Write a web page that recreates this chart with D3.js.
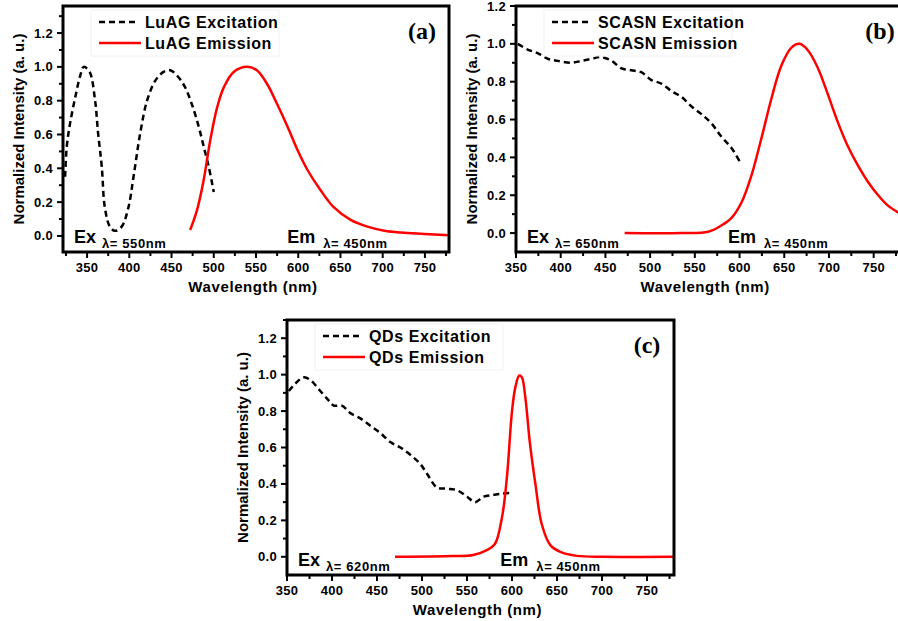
<!DOCTYPE html>
<html>
<head>
<meta charset="utf-8">
<script src="https://cdn.jsdelivr.net/npm/d3@7"></script>
<style>
  body { margin: 0; background: #fff; }
  svg text { font-family: "Liberation Sans", Arial, sans-serif; font-weight: bold; }
</style>
</head>
<body>
<div id="chart"></div>
<script>
// ---- data (wavelength nm, normalized intensity) ----
var luagEx = [[324,0.35],[326,0.53],[330,0.67],[336,0.82],[342,0.95],[346,1.0],[353,0.97],[359.5,0.80],
  [363,0.61],[367.4,0.41],[371,0.17],[377,0.055],[383,0.03],[391,0.055],[399,0.17],[405,0.35],[413,0.61],
  [421,0.80],[431,0.92],[440.5,0.97],[448.5,0.98],[458,0.94],[466,0.88],[474,0.78],[482,0.65],[488,0.53],
  [494,0.41],[500,0.26]];
var luagEm = [[472,0.035],[480,0.15],[488,0.33],[496,0.57],[504,0.76],[512,0.88],[523.6,0.97],[539.5,1.0],
  [551,0.98],[563,0.90],[575,0.78],[587,0.65],[599,0.51],[611,0.39],[626.5,0.27],[642,0.17],[662,0.095],
  [682,0.055],[702,0.031],[721.5,0.02],[749,0.012],[779,0.004]];
var scasnEx = [[352,1.0],[363,0.97],[374.6,0.95],[386,0.92],[397,0.91],[412,0.90],[423,0.91],[434,0.92],
  [445,0.93],[457,0.91],[468,0.87],[479,0.86],[490,0.85],[501,0.81],[512.5,0.79],[524,0.75],[535,0.72],
  [546,0.67],[557,0.63],[568.5,0.58],[579.6,0.51],[591,0.45],[600,0.38]];
var scasnEm = [[471.5,0.0],[535,0.0],[565,0.007],[579.6,0.04],[591,0.08],[602,0.16],[613,0.30],[624.4,0.50],
  [635.6,0.71],[646.8,0.885],[658,0.98],[667,1.0],[676.6,0.965],[687.8,0.87],[699,0.73],[710,0.585],
  [721,0.46],[732.5,0.356],[743.7,0.27],[755,0.20],[766,0.145],[777,0.11],[782,0.095]];
var qdEx = [[352,0.91],[359,0.95],[368.5,0.985],[376,0.97],[387,0.91],[396,0.86],[402,0.83],[411,0.83],
  [420,0.79],[431.5,0.76],[442.5,0.72],[453.7,0.68],[464.8,0.63],[476,0.60],[487,0.56],[498,0.51],
  [505.6,0.456],[516.7,0.38],[527.8,0.374],[539,0.365],[550,0.33],[559,0.30],[568.5,0.33],[579.6,0.34],
  [589,0.347],[598,0.35]];
var qdEm = [[470,0.0],[535,0.004],[557,0.01],[572,0.037],[581,0.07],[589,0.22],[594.4,0.44],[600,0.80],
  [603.7,0.93],[608,0.995],[611,0.985],[614.8,0.875],[620,0.62],[626,0.40],[633,0.18],[642.6,0.064],
  [653.7,0.027],[672,0.005],[702,0.0],[780,0.0]];

var yTickLabels = [0.0, 0.2, 0.4, 0.6, 0.8, 1.0, 1.2];
var xTickLabels = [350, 400, 450, 500, 550, 600, 650, 700, 750];

var panels = [
  {id: "a", name: "LuAG", ex: luagEx, em: luagEm, exWl: "550nm", emWl: "450nm",
   left: 63, top: 6, right: 449, bottom: 252, xd: [321.5, 778.5], yd: [-0.095, 1.36], tagX: 422},
  {id: "b", name: "SCASN", ex: scasnEx, em: scasnEm, exWl: "650nm", emWl: "450nm",
   left: 516, top: 6, right: 900.5, bottom: 252, xd: [350, 780], yd: [-0.1, 1.2], tagX: 880},
  {id: "c", name: "QDs", ex: qdEx, em: qdEm, exWl: "620nm", emWl: "450nm",
   left: 287, top: 320, right: 674, bottom: 575, xd: [350, 780], yd: [-0.1, 1.3], tagX: 647}
];

var svg = d3.select("#chart").append("svg")
  .attr("width", 898).attr("height", 621);

panels.forEach(function(p){
  var x = d3.scaleLinear().domain(p.xd).range([p.left, p.right]);
  var y = d3.scaleLinear().domain(p.yd).range([p.bottom, p.top]);
  var g = svg.append("g");

  g.append("clipPath").attr("id", "clip-" + p.id)
    .append("rect").attr("x", p.left).attr("y", p.top)
    .attr("width", p.right - p.left).attr("height", p.bottom - p.top);

  // ticks: minor every 25 nm / 0.1, major with labels
  var xMinor = d3.range(325, 780, 25).filter(function(v){ return v >= p.xd[0] && v <= p.xd[1]; });
  var yMinor = d3.range(0, p.yd[1] + 0.001, 0.1);
  g.selectAll(".xt").data(xMinor).enter().append("line")
    .attr("x1", function(d){ return x(d); }).attr("x2", function(d){ return x(d); })
    .attr("y1", p.bottom).attr("y2", function(d){ return p.bottom + (d % 50 == 0 ? 6 : 4); })
    .attr("stroke", "#000").attr("stroke-width", 2);
  g.selectAll(".yt").data(yMinor).enter().append("line")
    .attr("y1", function(d){ return y(d); }).attr("y2", function(d){ return y(d); })
    .attr("x1", p.left).attr("x2", function(d, i){ return p.left - (i % 2 == 0 ? 6 : 4); })
    .attr("stroke", "#000").attr("stroke-width", 2);

  g.selectAll(".xl").data(xTickLabels.filter(function(v){ return v >= p.xd[0]; })).enter().append("text")
    .attr("x", function(d){ return x(d); }).attr("y", p.bottom + 20)
    .attr("text-anchor", "middle").attr("font-size", 13).attr("letter-spacing", 0.3)
    .text(function(d){ return d; });
  g.selectAll(".yl").data(yTickLabels).enter().append("text")
    .attr("x", p.left - 10).attr("y", function(d){ return y(d); })
    .attr("dy", "0.35em").attr("text-anchor", "end").attr("font-size", 13).attr("letter-spacing", 0.3)
    .text(function(d){ return d.toFixed(1); });

  // axis titles
  g.append("text").attr("x", (p.left + p.right) / 2 - 3).attr("y", p.bottom + 40)
    .attr("text-anchor", "middle").attr("font-size", 15).attr("letter-spacing", 0.6)
    .text("Wavelength (nm)");
  g.append("text")
    .attr("transform", "translate(" + (p.left - 44) + "," + ((p.top + p.bottom) / 2) + ") rotate(-90)")
    .attr("text-anchor", "middle").attr("dy", "0.35em").attr("font-size", 15)
    .text("Normalized Intensity (a. u.)");

  // curves
  var line = d3.line().x(function(d){ return x(d[0]); }).y(function(d){ return y(d[1]); })
    .curve(d3.curveCatmullRom.alpha(0.5));
  var plot = g.append("g").attr("clip-path", "url(#clip-" + p.id + ")");
  plot.append("path").datum(p.ex).attr("d", line).attr("fill", "none")
    .attr("stroke", "#000").attr("stroke-width", 2.5).attr("stroke-dasharray", "6,4");
  plot.append("path").datum(p.em).attr("d", line).attr("fill", "none")
    .attr("stroke", "#ff0000").attr("stroke-width", 2.5);

  // legend
  var lg = g.append("g");
  lg.append("rect").attr("x", p.left + 28).attr("y", p.top + 4).attr("width", 188).attr("height", 46)
    .attr("fill", "none").attr("stroke", "#f2f2f2");
  lg.append("line").attr("x1", p.left + 36).attr("x2", p.left + 72)
    .attr("y1", p.top + 16).attr("y2", p.top + 16)
    .attr("stroke", "#000").attr("stroke-width", 2.5).attr("stroke-dasharray", "6,4");
  lg.append("line").attr("x1", p.left + 36).attr("x2", p.left + 78)
    .attr("y1", p.top + 37).attr("y2", p.top + 37)
    .attr("stroke", "#ff0000").attr("stroke-width", 2.5);
  lg.append("text").attr("x", p.left + 82).attr("y", p.top + 16).attr("dy", "0.35em")
    .attr("font-size", 16).attr("letter-spacing", 0.6).text(p.name + " Excitation");
  lg.append("text").attr("x", p.left + 82).attr("y", p.top + 37).attr("dy", "0.35em")
    .attr("font-size", 16).attr("letter-spacing", 0.6).text(p.name + " Emission");

  // panel tag
  g.append("text").attr("x", p.tagX).attr("y", p.top + 25).attr("dy", "0.35em")
    .attr("text-anchor", "middle").attr("font-size", 24)
    .style("font-family", "'Liberation Serif', 'Times New Roman', serif").text("(" + p.id + ")");

  // Ex / Em annotations
  g.append("text").attr("x", p.left + 11).attr("y", p.bottom - 9).attr("font-size", 18).text("Ex");
  g.append("text").attr("x", p.left + 39).attr("y", p.bottom - 4).attr("font-size", 13)
    .attr("letter-spacing", 0.6).text("\u03bb= " + p.exWl);
  g.append("text").attr("x", x(587)).attr("y", p.bottom - 9).attr("font-size", 18).text("Em");
  g.append("text").attr("x", x(587) + 36).attr("y", p.bottom - 4).attr("font-size", 13)
    .attr("letter-spacing", 0.6).text("\u03bb= " + p.emWl);

  // frame
  g.append("rect").attr("x", p.left).attr("y", p.top)
    .attr("width", p.right - p.left).attr("height", p.bottom - p.top)
    .attr("fill", "none").attr("stroke", "#000").attr("stroke-width", 3);
});
</script>
</body>
</html>
